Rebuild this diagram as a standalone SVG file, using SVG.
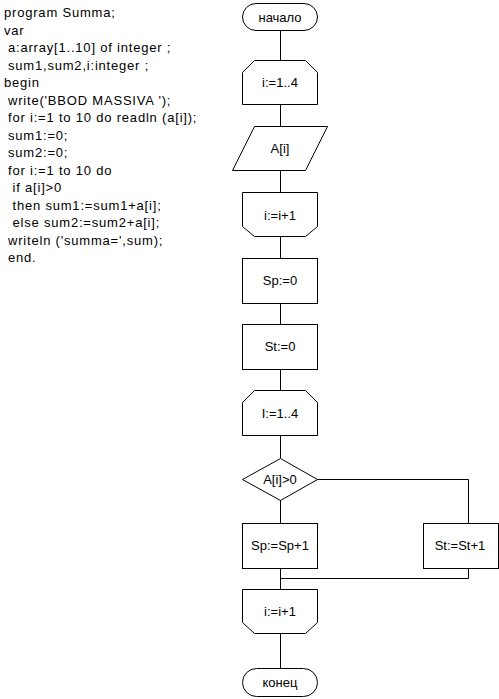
<svg xmlns="http://www.w3.org/2000/svg" width="499" height="699" viewBox="0 0 499 699">
<style>
  .code { font-family: "Liberation Sans", Arial, sans-serif; font-size: 13px; letter-spacing: 0.8px; fill: #000; }
  .lbl { font-family: "Liberation Sans", Arial, sans-serif; font-size: 13px; fill: #000; text-anchor: middle; }
  .shape { fill: #fff; stroke: #000; stroke-width: 1; }
  .conn { fill: none; stroke: #000; stroke-width: 1; }
</style>
<rect x="0" y="0" width="499" height="699" fill="#fff"/>
<g id="code">
  <text class="code" x="4" y="17">program Summa;</text>
  <text class="code" x="4" y="34.5">var</text>
  <text class="code" x="8" y="52">a:array[1..10] of integer ;</text>
  <text class="code" x="8" y="69.5">sum1,sum2,i:integer ;</text>
  <text class="code" x="4" y="87">begin</text>
  <text class="code" x="8" y="104.5">write('BBOD MASSIVA ');</text>
  <text class="code" x="8" y="122">for i:=1 to 10 do readln (a[i]);</text>
  <text class="code" x="8" y="139.5">sum1:=0;</text>
  <text class="code" x="8" y="157">sum2:=0;</text>
  <text class="code" x="8" y="174.5">for i:=1 to 10 do</text>
  <text class="code" x="12.5" y="192">if a[i]&gt;0</text>
  <text class="code" x="12.5" y="209.5">then sum1:=sum1+a[i];</text>
  <text class="code" x="12.5" y="227">else sum2:=sum2+a[i];</text>
  <text class="code" x="8" y="244.5">writeln ('summa=',sum);</text>
  <text class="code" x="8" y="262">end.</text>
</g>
<g id="connectors">
  <path class="conn" d="M280.5,31 V60 M280.5,105 V126 M280.5,171 V192 M280.5,237 V258 M280.5,303 V324 M280.5,369 V390 M280.5,436 V458 M280.5,500 V523 M280.5,568 V589 M280.5,633 V668"/>
  <path class="conn" d="M317.5,479.5 H468.5 V523.5"/>
  <path class="conn" d="M468.5,568.5 V578.5 H280.5"/>
</g>
<g id="start">
  <rect class="shape" x="242.5" y="3.5" width="75" height="27" rx="13.5"/>
  <text class="lbl" x="280" y="21.5">начало</text>
</g>
<g id="loop1">
  <path class="shape" d="M242.5,72.5 L254.5,60.5 H305.5 L317.5,72.5 V104.5 H242.5 Z"/>
  <text class="lbl" x="280" y="87">i:=1..4</text>
</g>
<g id="input">
  <path class="shape" d="M254.5,126.5 H327.5 L305.5,170.5 H232.5 Z"/>
  <text class="lbl" x="280" y="153">A[i]</text>
</g>
<g id="loop1end">
  <path class="shape" d="M242.5,192.5 H317.5 V226.5 L305.5,236.5 H254.5 L242.5,226.5 Z"/>
  <text class="lbl" x="280" y="220">i:=i+1</text>
</g>
<g id="sp0">
  <rect class="shape" x="242.5" y="258.5" width="75" height="45"/>
  <text class="lbl" x="280" y="285">Sp:=0</text>
</g>
<g id="st0">
  <rect class="shape" x="242.5" y="324.5" width="75" height="45"/>
  <text class="lbl" x="280" y="351">St:=0</text>
</g>
<g id="loop2">
  <path class="shape" d="M242.5,402.5 L254.5,390.5 H305.5 L317.5,402.5 V435.5 H242.5 Z"/>
  <text class="lbl" x="280" y="418">I:=1..4</text>
</g>
<g id="cond">
  <path class="shape" d="M280.5,458.5 L317.5,479.5 L280.5,500.5 L242.5,479.5 Z"/>
  <text class="lbl" x="280" y="484">A[i]&gt;0</text>
</g>
<g id="spinc">
  <rect class="shape" x="242.5" y="523.5" width="75" height="45"/>
  <text class="lbl" x="280" y="550">Sp:=Sp+1</text>
</g>
<g id="stinc">
  <rect class="shape" x="423.5" y="523.5" width="75" height="45"/>
  <text class="lbl" x="460" y="550">St:=St+1</text>
</g>
<g id="loop2end">
  <path class="shape" d="M242.5,589.5 H317.5 V622.5 L305.5,633.5 H254.5 L242.5,622.5 Z"/>
  <text class="lbl" x="280" y="615.5">i:=i+1</text>
</g>
<g id="end">
  <rect class="shape" x="242.5" y="668.5" width="75" height="28" rx="14"/>
  <text class="lbl" x="280" y="687">конец</text>
</g>
</svg>
